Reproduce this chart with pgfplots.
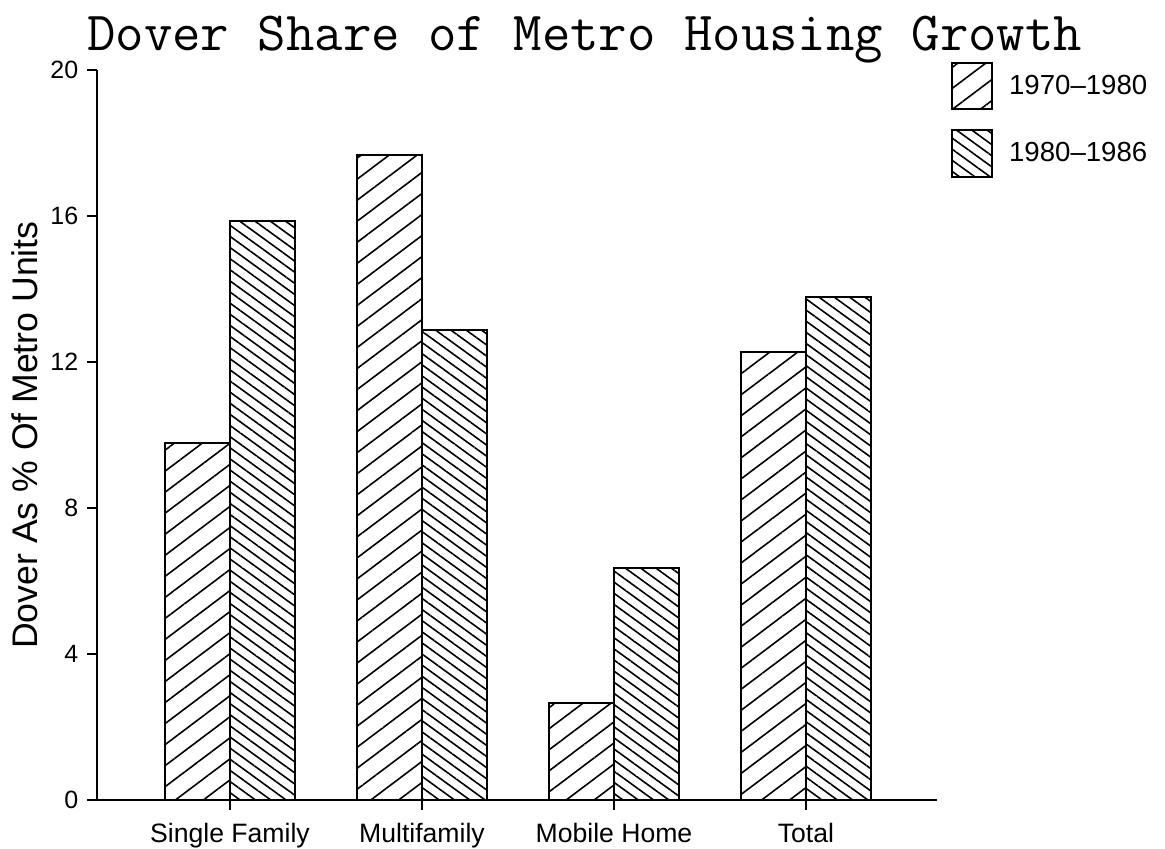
\documentclass[border=0pt]{standalone}
\usepackage{fontspec}
\setmainfont{Liberation Sans}
\usepackage{pgfplots}
\pgfplotsset{compat=1.18}
\usetikzlibrary{patterns.meta}

\pgfplotstableread{
x  a      b
0  9.78   15.87
1  17.68  12.88
2  2.67   6.36
3  12.27  13.78
}\housing

\pgfplotsset{
  boxlegend/.style={legend image code/.code={
    \draw[##1, line width=1pt] (0pt,-11.65pt) rectangle (20pt,11.65pt);}},
}

\begin{document}
\begin{tikzpicture}
\begin{axis}[
  at={(0,0)}, anchor=south west,
  scale only axis, width=419.7pt, height=364.9pt,
  xmin=-0.691, xmax=3.681, ymin=0, ymax=20,
  axis lines=left,
  axis line style={-, line width=1pt},
  xtick={0,1,2,3},
  xticklabels={Single Family, Multifamily, Mobile Home, Total},
  ytick={0,4,8,12,16,20},
  tick align=outside,
  major tick length=5pt,
  tick style={line width=1pt, black},
  /pgf/number format/assume math mode=true,
  y tick label style={font=\fontsize{12.5}{14}\selectfont, xshift=-1pt},
  x tick label style={font=\fontsize{13.3}{15}\selectfont, yshift=-3pt},
  ylabel={Dover As \% Of Metro Units},
  ylabel style={font=\fontsize{17.8}{20}\selectfont, at={(axis description cs:-0.086,0.5)}, anchor=center},
  title={Dover Share of Metro Housing Growth},
  title style={font=\ttfamily\fontsize{27.6}{28}\selectfont, at={(axis description cs:0.5807,1)}, anchor=base, yshift=4pt},
  ybar=0pt, bar width=32.5pt,
  every axis plot post/.append style={boxlegend},
  legend cell align=left,
  legend style={at={(axis description cs:1.0167,1.0123)}, anchor=north west,
    draw=none, fill=none, inner sep=0pt, row sep=9.6pt, column sep=8pt,
    nodes={inner sep=0pt, font=\fontsize{13.8}{15}\selectfont}},
]
\addplot[draw=black, line width=1pt, pattern={Lines[angle=37, distance=8.4pt, line width=0.8pt]}] table[x=x, y=a] {\housing};
\addplot[draw=black, line width=1pt, pattern={Lines[angle=-36, distance=4.5pt, line width=0.8pt]}] table[x=x, y=b] {\housing};
\legend{1970\textendash1980, 1980\textendash1986}
\end{axis}
\pgfresetboundingbox
\path[use as bounding box] (-48.65pt,-24pt) rectangle (533.85pt,400pt);
\end{tikzpicture}
\end{document}
